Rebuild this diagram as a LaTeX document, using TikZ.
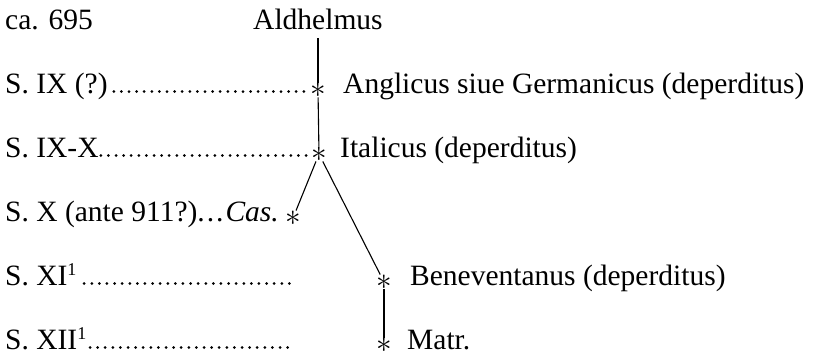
\documentclass[tikz,border=0pt]{standalone}
\usepackage{fontspec}
\setmainfont{Liberation Serif}
\usetikzlibrary{positioning,calc}

\begin{document}
\begin{tikzpicture}[
    x=1pt, y=-1pt,
    every node/.style={
        font=\fontsize{29.5}{34}\selectfont
    },
    date/.style={
        anchor=base west,
        inner sep=0pt
    },
    wit/.style={
        anchor=base west,
        inner sep=0pt
    },
    sig/.style={
        inner sep=0pt,
        font=\fontsize{25}{25}\selectfont
    },
    stem/.style={
        line width=1.1pt
    },
    leader/.style={
        line width=3pt,
        line cap=round,
        dash pattern=on 0pt off 7.6pt
    }
]
\useasboundingbox (0,0) rectangle (817,354);

% Zeitleiste
\node[date] (d1) at (5,29) {ca. 695};
\node[date] (d2) at (5,93) {S. IX (?)};
\node[date] (d3) at (5,157) {S. IX-X};
\node[date] (d4) at (5,221) {S. X (ante 911?).\kern2pt.\kern2pt.\kern2pt\textit{Cas.}};
\node[date] (d5) at (5,285) {S. XI\textsuperscript{\fontsize{18}{18}\selectfont 1}};
\node[date] (d6) at (5,349) {S. XII\textsuperscript{\fontsize{18}{18}\selectfont 1}};

% Handschriften
\node[wit, inner ysep=9pt] (ald) at (253,29) {Aldhelmus};
\node[sig] (angl) at (318,90) {\scalebox{1.25}{$\ast$}};
\node[sig] (ital) at (319,154) {\scalebox{1.25}{$\ast$}};
\node[sig] (cas) at (293,218) {\scalebox{1.25}{$\ast$}};
\node[sig] (bene) at (384,282) {\scalebox{1.25}{$\ast$}};
\node[sig] (matr) at (384,345) {\scalebox{1.25}{$\ast$}};

\node[wit] (anglt) at (343,93) {Anglicus siue Germanicus (deperditus)};
\node[wit] (italt) at (340,157) {Italicus (deperditus)};
\node[wit] (benet) at (410,285) {Beneventanus (deperditus)};
\node[wit] (matrt) at (407,349) {Matr.};

\coordinate (e5) at (293,283.5);
\coordinate (e6) at (293,347.5);

% Punktlinien
\draw[leader] ($(d2.base east)+(6,-1.5)$) -- ($(angl.west |- d2.base)+(-1,-1.5)$);
\draw[leader] ($(d3.base east)+(2,-1.5)$) -- ($(ital.west |- d3.base)+(-1,-1.5)$);
\draw[leader] ($(d5.base east)+(7,-1.5)$) -- (e5);
\draw[leader] ($(d6.base east)+(3,-1.5)$) -- (e6);

% Stemma
\draw[stem] (ald.south -| angl) -- (angl);
\draw[stem] (angl) -- (ital);
\draw[stem] (ital) -- (cas);
\draw[stem] (ital) -- (bene);
\draw[stem] (bene) -- (matr);

\end{tikzpicture}
\end{document}
